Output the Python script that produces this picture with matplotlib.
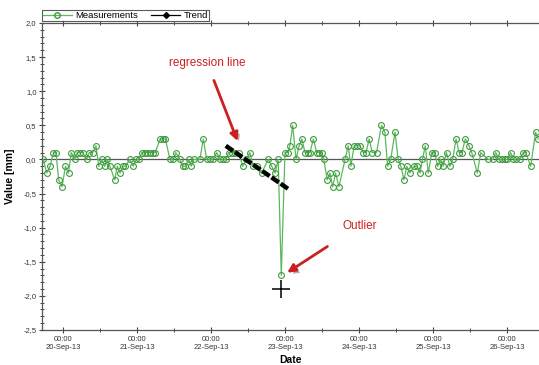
import numpy as np
import matplotlib.pyplot as plt
import matplotlib.patheffects as pe
from matplotlib.lines import Line2D

plt.rcParams['font.family'] = ['Liberation Sans', 'DejaVu Sans']

# hours since 20-Sep-13 00:00 and measured values [mm]
hours = [-6.4, -5.3, -4.2, -3.1, -2.3, -1.4, -0.3, 0.8, 1.8, 2.7, 3.8, 4.6, 5.5, 6.4,
         7.7, 8.5, 9.6, 10.7, 11.6, 12.6, 13.5, 14.4, 15.2, 16.8, 17.6, 18.5, 19.4, 20.2,
         21.7, 22.8, 23.7, 24.5, 25.6, 26.5, 27.4, 28.2, 29.1, 29.9, 31.5, 32.3, 33.2,
         34.7, 35.8, 36.6, 37.9, 38.8, 39.7, 40.8, 41.6, 42.5, 44.4, 45.5, 46.6, 47.6,
         48.7, 49.9, 50.9, 51.8, 52.9, 53.7, 54.8, 55.9, 57.0, 58.3, 59.5, 60.6, 61.7,
         62.8, 64.4, 66.6, 67.7, 68.8, 69.8, 70.8, 72.0, 72.9, 73.6,
         74.5, 75.6, 76.6, 77.5, 78.5, 79.4, 80.1, 81.2, 82.3, 83.1, 83.9, 84.6, 85.7,
         86.6, 87.5, 88.4, 89.5, 91.5, 92.5, 93.4, 94.4, 95.5, 96.3, 97.4, 98.3, 99.3,
         100.3, 101.7, 103.3, 104.4, 105.3, 106.3, 107.7, 108.7, 109.6, 110.6, 111.5,
         112.5, 113.8, 114.9, 115.8, 116.6, 117.5, 118.5, 119.6, 120.6, 121.5, 122.5,
         123.3, 124.4, 125.5, 126.4, 127.5, 128.5, 129.4, 130.5, 131.7, 132.6, 134.4,
         135.5, 137.9, 139.4, 140.4, 141.3, 142.3, 143.3, 144.1, 145.2, 146.1, 147.1,
         148.2, 149.3, 150.1, 151.7, 153.3, 154.1]
values = [0.0, -0.2, -0.1, 0.1, 0.1, -0.3, -0.4, -0.1, -0.2, 0.1, 0.0, 0.1, 0.1, 0.1,
          0.0, 0.1, 0.1, 0.2, -0.1, 0.0, -0.1, 0.0, -0.1, -0.3, -0.1, -0.2, -0.1, -0.1,
          0.0, -0.1, 0.0, 0.0, 0.1, 0.1, 0.1, 0.1, 0.1, 0.1, 0.3, 0.3, 0.3,
          0.0, 0.0, 0.1, 0.0, -0.1, -0.1, 0.0, -0.1, 0.0, 0.0, 0.3, 0.0, 0.0,
          0.0, 0.1, 0.0, 0.0, 0.0, 0.1, 0.1, 0.1, 0.1, -0.1, 0.0, 0.1, -0.1,
          -0.1, -0.2, 0.0, -0.1, -0.2, 0.0, -1.7, 0.1, 0.1, 0.2,
          0.5, 0.0, 0.2, 0.3, 0.1, 0.1, 0.1, 0.3, 0.1, 0.1, 0.1, 0.0, -0.3,
          -0.2, -0.4, -0.2, -0.4, 0.0, 0.2, -0.1, 0.2, 0.2, 0.2, 0.1, 0.1, 0.3,
          0.1, 0.1, 0.5, 0.4, -0.1, 0.0, 0.4, 0.0, -0.1, -0.3, -0.1,
          -0.2, -0.1, -0.1, -0.2, 0.0, 0.2, -0.2, 0.1, 0.1, -0.1, 0.0,
          -0.1, 0.1, -0.1, 0.0, 0.3, 0.1, 0.1, 0.3, 0.2, 0.1, -0.2,
          0.1, 0.0, 0.0, 0.1, 0.0, 0.0, 0.0, 0.0, 0.1, 0.0, 0.0,
          0.0, 0.1, 0.1, -0.1, 0.4, 0.3]

# regression line end points
trend_hours = [52.8, 73.3]
trend_vals = [0.2, -0.44]

# outlier cross
outlier_hour = 70.8
outlier_val = -1.9

day_ticks = [0, 24, 48, 72, 96, 120, 144]
day_labels = ['00:00\n20-Sep-13', '00:00\n21-Sep-13', '00:00\n22-Sep-13', '00:00\n23-Sep-13',
              '00:00\n24-Sep-13', '00:00\n25-Sep-13', '00:00\n26-Sep-13']
y_ticks = [-2.5, -2.0, -1.5, -1.0, -0.5, 0.0, 0.5, 1.0, 1.5, 2.0]

green_line = '#5cb85c'
green_mark = '#3d9a3d'
red = '#cc2020'

fig = plt.figure(figsize=(5.39, 3.65), dpi=100)
ax = fig.add_axes([0.078, 0.096, 0.922, 0.841])

ax.axhline(0, color='#555555', lw=0.9, zorder=1)
ax.plot(hours, values, color=green_line, lw=0.9, marker='o', ms=4.2,
        mfc='none', mec=green_mark, mew=0.8, zorder=3)
ax.plot(trend_hours, trend_vals, color='black', lw=3.2, dashes=(2.0, 0.5), zorder=4)
ax.plot([outlier_hour], [outlier_val], marker='+', color='black', ms=13, mew=1.1, zorder=4)

ax.set_xticks(day_ticks)
ax.set_xticklabels(day_labels)
ax.set_xticks(np.arange(12, 156, 24), minor=True)
ax.set_yticks(y_ticks)
ax.set_yticklabels([('%.1f' % v).replace('.', ',') for v in y_ticks])
ax.set_yticks(np.arange(-2.5, 2.01, 0.1), minor=True)
ax.set_xlim(-6.8, 154.4)
ax.set_ylim(-2.5, 2.0)

ax.tick_params(which='major', direction='inout', length=5, width=0.8, color='#444444',
               labelsize=5.5, labelcolor='#333333', top=True, pad=1.5)
ax.tick_params(which='minor', direction='inout', length=3, width=0.7, color='#444444', top=True)
ax.tick_params(axis='y', which='minor', length=3.5)
for s in ['left', 'bottom', 'top']:
    ax.spines[s].set_color('#555555')
    ax.spines[s].set_linewidth(0.9)
ax.spines['right'].set_visible(False)

ax.set_xlabel('Date', fontsize=7.5, fontweight='bold', labelpad=3)
ax.set_ylabel('Value [mm]', fontsize=7.5, fontweight='bold', labelpad=6)

handles = [Line2D([], [], color=green_line, lw=0.9, marker='o', ms=4, mfc='none', mec=green_mark),
           Line2D([], [], color='black', lw=0.9, marker='D', ms=3)]
leg = fig.legend(handles, ['Measurements', 'Trend'], loc='lower left',
                 bbox_to_anchor=(0.078, 0.942), ncol=2, fontsize=6.8, frameon=True,
                 fancybox=False, edgecolor='#333333', borderpad=0.12, handlelength=3.0,
                 handletextpad=0.4, columnspacing=1.4, borderaxespad=0)
leg.get_frame().set_linewidth(0.8)

a1 = ax.annotate('regression line', xy=(56.6, 0.27), xytext=(46.7, 1.42),
                 color=red, fontsize=8.5, ha='center', va='center',
                 arrowprops=dict(arrowstyle='-|>', color=red, lw=2.0, mutation_scale=12,
                                 shrinkA=7, shrinkB=0))
a2 = ax.annotate('Outlier', xy=(72.7, -1.66), xytext=(96.2, -0.97),
                 color=red, fontsize=8.5, ha='center', va='center',
                 arrowprops=dict(arrowstyle='-|>', color=red, lw=2.0, mutation_scale=12,
                                 shrinkA=16, shrinkB=0))
for a in (a1, a2):
    a.arrow_patch.set_path_effects([pe.SimplePatchShadow(offset=(2, -2), alpha=0.35),
                                    pe.Normal()])

fig.savefig('out.png', dpi=100)
